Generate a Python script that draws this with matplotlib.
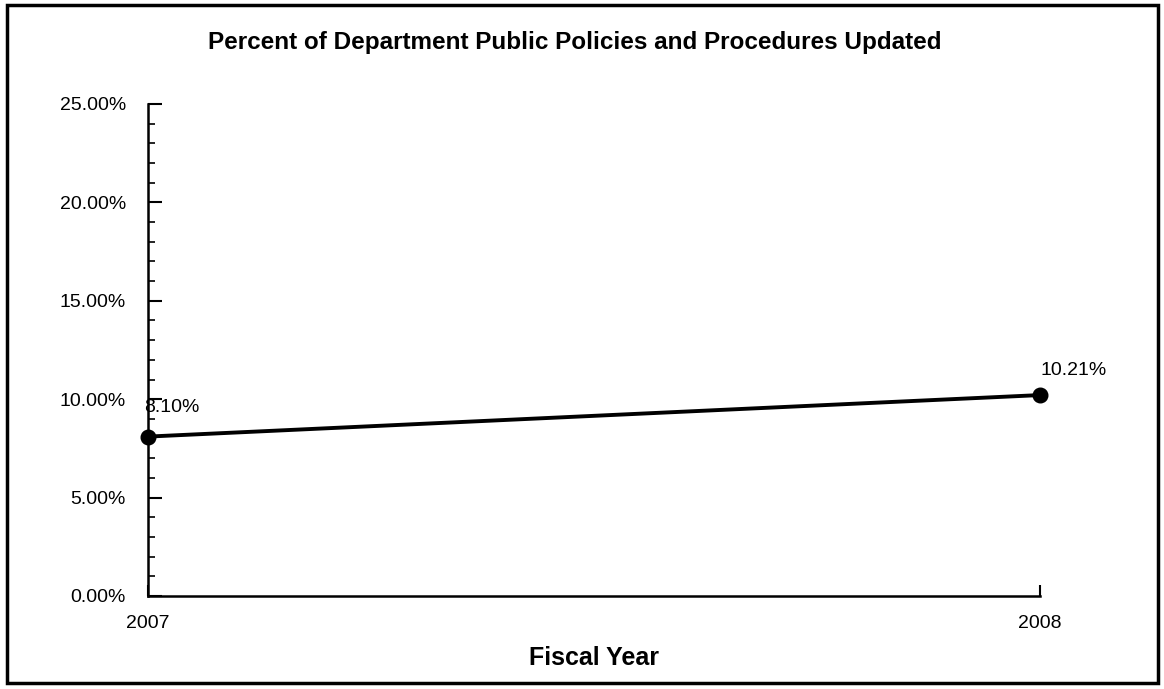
import matplotlib
matplotlib.use("Agg")
import matplotlib.pyplot as plt
from matplotlib.ticker import MultipleLocator, FuncFormatter
from matplotlib.patches import Rectangle

plt.rcParams['font.family'] = ['Liberation Sans', 'DejaVu Sans']

years = ["2007", "2008"]
values = [8.10, 10.21]
labels = ["8.10%", "10.21%"]
title = "Percent of Department Public Policies and Procedures Updated"
xlabel = "Fiscal Year"

fig = plt.figure(figsize=(11.64, 6.89), dpi=100)
ax = fig.add_axes([148/1164, 1-596/689, (1040-148)/1164, (596-104)/689])

x = list(range(len(years)))
ax.plot(x, values, color='black', linewidth=2.8, marker='o', markersize=10.5, clip_on=False)
label_offsets = [(-3, 21), (0, 18)]
for xi, v, lab, off in zip(x, values, labels, label_offsets):
    ax.annotate(lab, (xi, v), xytext=off, textcoords='offset points',
                ha='left', va='center', fontsize=14)

ax.set_xlim(0, 1)
ax.set_ylim(0, 25)
ax.set_xticks(x)
ax.set_xticklabels(years, fontsize=14)
ax.yaxis.set_major_locator(MultipleLocator(5))
ax.yaxis.set_minor_locator(MultipleLocator(1))
ax.yaxis.set_major_formatter(FuncFormatter(lambda v, p: f"{v:.2f}%"))
ax.tick_params(axis='y', which='major', direction='in', length=10, width=1.5, labelsize=14, pad=16)
ax.tick_params(axis='y', which='minor', direction='in', length=5, width=1.2)
ax.tick_params(axis='x', which='major', direction='in', length=8, width=1.5, labelsize=14, pad=14)
for s in ['top', 'right']:
    ax.spines[s].set_visible(False)
for s in ['left', 'bottom']:
    ax.spines[s].set_linewidth(1.8)

ax.set_xlabel(xlabel, fontsize=18, fontweight='bold', labelpad=10)
fig.text(575/1164, 1-42/689, title, ha='center', va='center', fontsize=17.5, fontweight='bold')

fig.patches.append(Rectangle((7/1164, 1-683/689), (1158-7)/1164, (683-5)/689,
                             transform=fig.transFigure, fill=False, edgecolor='black', linewidth=2.5))

fig.savefig("out.png", dpi=100)
